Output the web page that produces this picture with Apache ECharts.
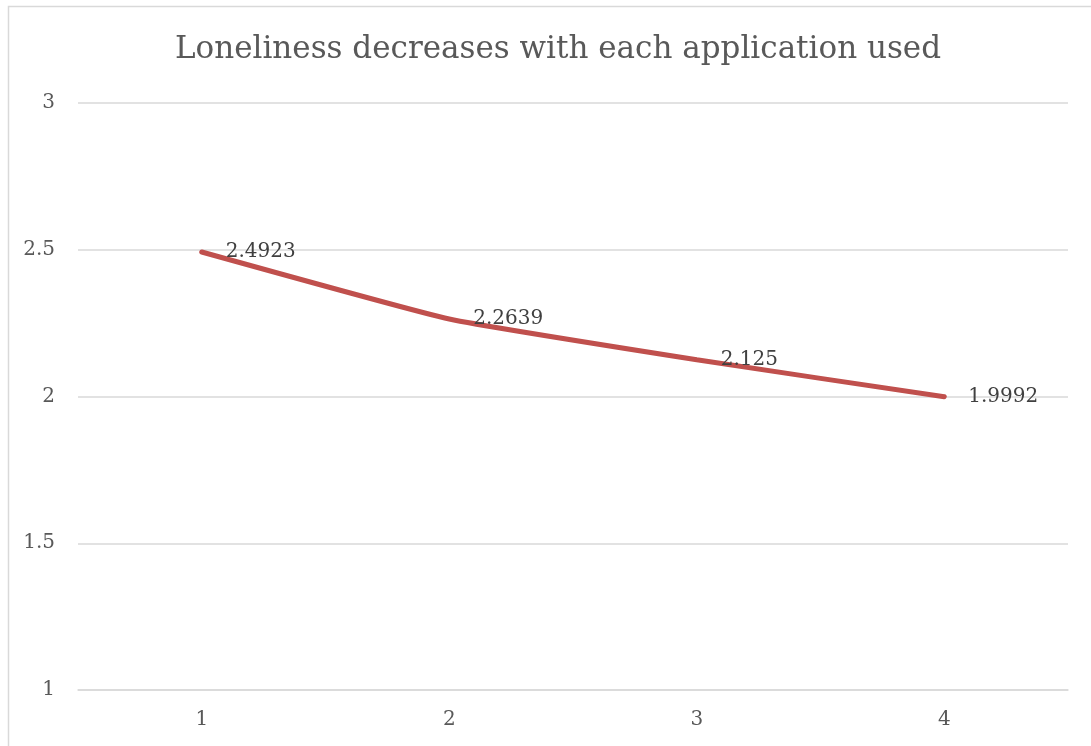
<!DOCTYPE html>
<html>
<head>
<meta charset="utf-8">
<script src="https://cdn.jsdelivr.net/npm/echarts@6/dist/echarts.min.js"></script>
<style>
  html, body { margin: 0; padding: 0; background: #fff; }
  #chart { width: 1091px; height: 746px; }
</style>
</head>
<body>
<div id="chart"></div>
<script>
// Number of applications used and mean loneliness score
const categories = ['1', '2', '3', '4'];
const loneliness = [2.4923, 2.2639, 2.125, 1.9992];
const yTicks = { min: 1, max: 3, interval: 0.5 };

const chart = echarts.init(document.getElementById('chart'), null, { renderer: 'canvas' });
const serif = '"DejaVu Serif", "Liberation Serif", serif';

chart.setOption({
  backgroundColor: '#ffffff',
  animation: false,
  graphic: [{
    type: 'rect',
    shape: { x: 8.5, y: 6.5, width: 1200, height: 800 },
    style: { fill: 'none', stroke: '#d9d9d9', lineWidth: 1.5 },
    silent: true, z: -1
  }],
  title: {
    text: 'Loneliness decreases with each application used',
    left: 553,
    top: 29,
    textAlign: 'center',
    textStyle: { fontFamily: serif, fontSize: 31, fontWeight: 'normal', color: '#595959' }
  },
  grid: { left: 78, right: 23, top: 103, bottom: 56, containLabel: false },
  xAxis: {
    type: 'category',
    data: categories,
    boundaryGap: true,
    axisLine: { show: true, lineStyle: { color: '#d9d9d9', width: 1.5 } },
    axisTick: { show: false },
    axisLabel: { margin: 20, fontFamily: serif, fontSize: 20, color: '#595959' },
    splitLine: { show: false }
  },
  yAxis: {
    type: 'value',
    min: yTicks.min,
    max: yTicks.max,
    interval: yTicks.interval,
    axisLine: { show: false },
    axisTick: { show: false },
    axisLabel: { margin: 23, fontFamily: serif, fontSize: 20, color: '#595959' },
    splitLine: { lineStyle: { color: '#d9d9d9', width: 1.5 } }
  },
  series: [{
    type: 'line',
    data: loneliness,
    smooth: 0.12,
    symbol: 'circle',
    symbolSize: 4,
    showSymbol: true,
    showAllSymbol: true,
    itemStyle: { color: '#c0504d', borderWidth: 0 },
    lineStyle: { color: '#c0504d', width: 5, cap: 'round' },
    label: {
      show: true,
      position: 'right',
      distance: 22,
      offset: [0, 2],
      fontFamily: serif,
      fontSize: 20,
      color: '#404040',
      formatter: p => String(p.value)
    },
    labelLayout: { hideOverlap: false },
    z: 3
  }]
});
</script>
</body>
</html>
